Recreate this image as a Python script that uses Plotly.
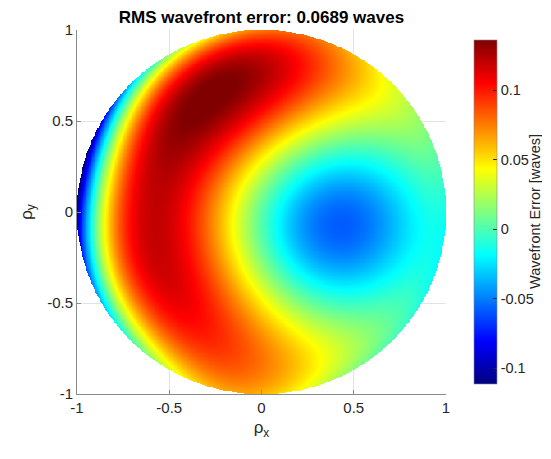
import numpy as np
import plotly.graph_objects as go
from math import factorial

# Zernike terms (radial order n, azimuthal frequency m; m<0 -> sin, m>0 -> cos), in waves
zern_n = [0, 1, 1, 2, 2, 2, 3, 3, 3, 3, 4, 4, 4, 4, 4,
          5, 5, 5, 5, 5, 5, 6, 6, 6, 6, 6, 6, 6]
zern_m = [0, -1, 1, -2, 0, 2, -3, -1, 1, 3, -4, -2, 0, 2, 4,
          -5, -3, -1, 1, 3, 5, -6, -4, -2, 0, 2, 4, 6]
zern_coef = [0.0451, 0.0229, -0.0559, 0.0135, -0.0007, -0.0619,
             -0.0075, -0.0166, 0.0932, 0.0096,
             0.0036, 0.0034, -0.0423, 0.0037, 0.0020,
             -0.0035, 0.0017, -0.0016, -0.0016, 0.0012, -0.0012,
             0.0038, -0.0016, 0.0039, -0.0004, -0.0047, 0.0002, -0.0013]

title_text = "RMS wavefront error: 0.0689 waves"
cbar_title = "Wavefront Error [waves]"
x_ticks = [-1, -0.5, 0, 0.5, 1]
y_ticks = [-1, -0.5, 0, 0.5, 1]
axis_ticktext = ['-1', '-0.5', '0', '0.5', '1']
cbar_ticks = [-0.1, -0.05, 0, 0.05, 0.1]
cbar_ticktext = ['-0.1', '-0.05', '0', '0.05', '0.1']
cbar_range = [-0.1114, 0.136]


def zernike(n, m, r, t):
    am = abs(m)
    rad = np.zeros_like(r, dtype=float)
    for k in range((n - am) // 2 + 1):
        c = (-1) ** k * factorial(n - k) / (
            factorial(k) * factorial((n + am) // 2 - k) * factorial((n - am) // 2 - k))
        rad = rad + c * r ** (n - 2 * k)
    if m > 0:
        return rad * np.cos(am * t)
    if m < 0:
        return rad * np.sin(am * t)
    return rad


N = 451
xs = np.linspace(-1, 1, N)
X, Y = np.meshgrid(xs, xs)
RR = np.hypot(X, Y)
TT = np.arctan2(Y, X)
Z = np.zeros_like(X)
for n, m, c in zip(zern_n, zern_m, zern_coef):
    Z += c * zernike(n, m, RR, TT)
Z = np.round(Z, 5)
Z[RR > 1] = np.nan

jet = [[0, 'rgb(0,0,128)'], [0.125, 'rgb(0,0,255)'], [0.375, 'rgb(0,255,255)'],
       [0.625, 'rgb(255,255,0)'], [0.875, 'rgb(255,0,0)'], [1, 'rgb(128,0,0)']]

FONT = "Liberation Sans, Arial, Helvetica, sans-serif"
AX_COL = '#8a8a8a'
TXT_COL = '#262626'

fig = go.Figure(go.Heatmap(
    x=xs, y=xs, z=Z, zmin=cbar_range[0], zmax=cbar_range[1], colorscale=jet,
    hoverongaps=False,
    colorbar=dict(x=1.0488, xanchor='left', y=0.5, yanchor='middle', len=1.0,
                  thickness=23, outlinecolor=AX_COL, outlinewidth=0.6,
                  ticks='inside', ticklen=4, tickcolor=TXT_COL,
                  tickvals=cbar_ticks, ticktext=cbar_ticktext,
                  tickfont=dict(family=FONT, size=14.5, color=TXT_COL))))

fig.add_annotation(text=cbar_title, textangle=-90, xref='paper', yref='paper',
                   x=1.2412, y=0.5, xanchor='center', yanchor='middle', showarrow=False,
                   font=dict(family=FONT, size=14.5, color=TXT_COL))

axis_common = dict(range=[-1, 1], showgrid=True, gridcolor='#e3e3e3', gridwidth=1,
                   zeroline=False, showline=True, linecolor=AX_COL, linewidth=1,
                   ticks='inside', ticklen=4, tickcolor=AX_COL,
                   tickfont=dict(family=FONT, size=15, color=TXT_COL))

fig.update_layout(
    width=534, height=442,
    margin=dict(l=69, r=96, t=21.5, b=56, autoexpand=False),
    paper_bgcolor='white', plot_bgcolor='white',
    title=dict(text='<b>' + title_text + '</b>', x=0.5, xref='paper',
               y=1 - 9.5 / 442, yref='container', yanchor='middle', xanchor='center',
               font=dict(family=FONT, size=17, color='black')),
    xaxis=dict(**axis_common, tickvals=x_ticks, ticktext=axis_ticktext,
               title=dict(text='ρ<sub>x</sub>', standoff=6,
                          font=dict(family=FONT, size=17, color=TXT_COL))),
    yaxis=dict(**axis_common, tickvals=y_ticks, ticktext=axis_ticktext,
               title=dict(text='ρ<sub>y</sub>', standoff=10,
                          font=dict(family=FONT, size=17, color=TXT_COL))),
)
fig.write_html('out.html')
